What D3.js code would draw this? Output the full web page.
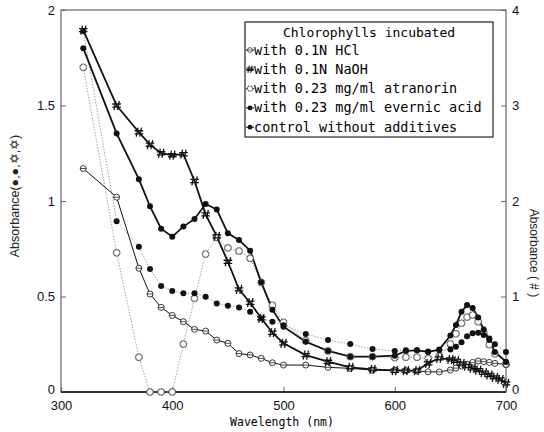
<!DOCTYPE html>
<html>
<head>
<meta charset="utf-8">
<script src="https://cdn.jsdelivr.net/npm/d3@7"></script>
<style>
body { margin: 0; background: #fff; }
</style>
</head>
<body>
<div id="chart-area"></div>
<script>
// wavelengths (nm) shared by most series
let wl = [320,350,370,380,390,400,410,420,430,440,450,460,470,480,490,500,520,540,560,580,
          600,610,620,630,640,650,655,660,665,670,675,680,685,690,700];
// NaOH has one extra reading at 695
let wlNaOH = [320,350,370,380,390,400,410,420,430,440,450,460,470,480,490,500,520,540,560,580,
              600,610,620,630,640,650,655,660,665,670,675,680,685,690,695,700];

let hcl = [1.17,1.02,0.648,0.513,0.443,0.401,0.368,0.328,0.319,0.272,0.255,0.201,0.194,0.176,0.153,0.141,0.141,0.129,0.124,0.115,
           0.115,0.112,0.11,0.106,0.105,0.115,0.125,0.136,0.145,0.155,0.162,0.159,0.155,0.15,0.145];
let naoh = [3.79,3.0,2.72,2.59,2.50,2.48,2.49,2.21,1.86,1.63,1.364,1.075,0.935,0.772,0.621,0.51,0.387,0.317,0.258,0.237,
            0.223,0.223,0.223,0.30,0.353,0.342,0.328,0.30,0.272,0.248,0.23,0.202,0.178,0.154,0.133,0.091];
let atranorin = [1.70,0.729,0.182,0,0,0,0.251,0.49,0.722,0.81,0.754,0.738,0.70,0.574,0.454,0.365,0.269,0.215,0.185,0.185,
                 0.18,0.182,0.182,0.176,0.188,0.252,0.305,0.36,0.392,0.403,0.368,0.31,0.248,0.2,0.145];
let evernic = [1.89,0.894,0.761,0.644,0.555,0.529,0.517,0.517,0.499,0.464,0.452,0.443,0.42,0.386,0.368,0.35,0.304,0.272,0.251,0.225,
               0.215,0.218,0.218,0.212,0.218,0.223,0.237,0.26,0.292,0.308,0.31,0.298,0.28,0.25,0.21];
let control = [1.80,1.354,1.114,0.972,0.855,0.813,0.866,0.906,0.984,0.956,0.831,0.796,0.74,0.574,0.431,0.342,0.263,0.215,0.185,0.185,
               0.19,0.215,0.218,0.21,0.222,0.296,0.351,0.42,0.455,0.44,0.39,0.327,0.272,0.21,0.159];

let leftTicks = [0,0.5,1,1.5,2];
let rightTicks = [0,1,2,3,4];
let xTicks = [300,400,500,600,700];
let legendTitle = "Chlorophylls incubated";
let legendLabels = ["with 0.1N HCl","with 0.1N NaOH","with 0.23 mg/ml atranorin","with 0.23 mg/ml evernic acid","control without additives"];

let width = 544, height = 432;
let pLeft = 61, pRight = 506, pTop = 10, pBottom = 392;

let svg = d3.select("#chart-area").append("svg")
    .attr("width", width)
    .attr("height", height);

let x = d3.scaleLinear().domain([300,700]).range([pLeft,pRight]);
let y = d3.scaleLinear().domain([0,2]).range([pBottom,pTop]);
let yR = d3.scaleLinear().domain([0,4]).range([pBottom,pTop]);

// frame
svg.append("rect")
    .attr("x", pLeft).attr("y", pTop)
    .attr("width", pRight-pLeft).attr("height", pBottom-pTop)
    .attr("fill", "none").attr("stroke", "#444").attr("stroke-width", 1);

let fmt = d3.format("");
let tickFont = "Liberation Sans, Arial, sans-serif";

let gx = svg.append("g").attr("transform", "translate(0," + pBottom + ")")
    .call(d3.axisBottom(x).tickValues(xTicks).tickFormat(fmt).tickSize(-5).tickPadding(9));
let gl = svg.append("g").attr("transform", "translate(" + pLeft + ",0)")
    .call(d3.axisLeft(y).tickValues(leftTicks).tickFormat(fmt).tickSize(-5).tickPadding(6));
let gr = svg.append("g").attr("transform", "translate(" + pRight + ",0)")
    .call(d3.axisRight(yR).tickValues(rightTicks).tickFormat(fmt).tickSize(-5).tickPadding(6));

[gx, gl, gr].forEach(g => {
    g.select(".domain").remove();
    g.selectAll("line").attr("stroke", "#666");
    g.selectAll("text").attr("font-family", tickFont).attr("font-size", 13).attr("fill", "#111");
});
// the two zero labels sit a little above the corner
gl.selectAll(".tick text").filter(d => d === 0).attr("dy", "0.1em");
gr.selectAll(".tick text").filter(d => d === 0).attr("dy", "0.1em");

// bottom axis line is heavier
svg.append("line").attr("x1", pLeft).attr("x2", pRight).attr("y1", pBottom).attr("y2", pBottom)
    .attr("stroke", "#111").attr("stroke-width", 1.4);

// axis titles
svg.append("text")
    .attr("x", 282).attr("y", 426)
    .attr("text-anchor", "middle")
    .attr("font-family", "DejaVu Sans Mono, monospace")
    .attr("font-size", 11.5)
    .text("Wavelength (nm)");

svg.append("text")
    .attr("transform", "translate(19,196) rotate(-90)")
    .attr("text-anchor", "middle")
    .attr("font-family", tickFont)
    .attr("font-size", 12.5)
    .attr("fill", "#222")
    .text("Absorbance(\u25CF,\u25CF,\u2721,\u2721)");

svg.append("text")
    .attr("transform", "translate(530,253) rotate(90)")
    .attr("text-anchor", "middle")
    .attr("font-family", tickFont)
    .attr("font-size", 12)
    .attr("fill", "#222")
    .text("Absorbance ( # )");

// marker shapes
let starPts = d3.range(24).map(i => {
    let a = i * Math.PI / 12, r = i % 2 ? 2.8 : 3.8;
    return [r*Math.sin(a), -r*Math.cos(a)];
});
let starPath = "M" + starPts.join("L") + "Z";

function marker(g, type) {
    if (type === "hcl") {
        g.append("circle").attr("r", 3).attr("fill", "#fff").attr("stroke", "#222").attr("stroke-width", 0.9);
        g.append("line").attr("x1", -3).attr("x2", 3).attr("stroke", "#222").attr("stroke-width", 0.8);
    } else if (type === "naoh") {
        g.append("path")
            .attr("d", "M-2.6,4.5L-0.8,-4.5M0.9,4.5L2.7,-4.5M-4.3,-1.5L4.3,-1.5M-4.3,1.6L4.3,1.6")
            .attr("stroke", "#111").attr("stroke-width", 1.3).attr("fill", "none");
    } else if (type === "atr") {
        g.append("path").attr("d", starPath).attr("fill", "#fff").attr("stroke", "#444").attr("stroke-width", 0.8);
    } else {
        g.append("circle").attr("r", 3).attr("fill", "#111");
    }
}

let series = [
    {xs: wl, vs: atranorin, sc: y, type: "atr", stroke: "#888", w: 0.8, dash: "1.5,1.5"},
    {xs: wl, vs: evernic, sc: y, type: "filled", stroke: "#888", w: 0.8, dash: "1.5,1.5"},
    {xs: wl, vs: hcl, sc: y, type: "hcl", stroke: "#111", w: 1, dash: null},
    {xs: wlNaOH, vs: naoh, sc: yR, type: "naoh", stroke: "#111", w: 1.8, dash: null},
    {xs: wl, vs: control, sc: y, type: "filled", stroke: "#111", w: 1.8, dash: null}
];

series.forEach(s => {
    let pts = s.xs.map((d,i) => [d, s.vs[i]]);
    let line = d3.line().x(d => x(d[0])).y(d => s.sc(d[1]));
    svg.append("path")
        .datum(pts)
        .attr("d", line)
        .attr("fill", "none")
        .attr("stroke", s.stroke)
        .attr("stroke-width", s.w)
        .attr("stroke-dasharray", s.dash);
});
series.forEach(s => {
    let pts = s.xs.map((d,i) => [d, s.vs[i]]);
    svg.append("g").selectAll("g")
        .data(pts)
        .enter().append("g")
        .attr("transform", d => "translate(" + x(d[0]) + "," + s.sc(d[1]) + ")")
        .each(function() { marker(d3.select(this), s.type); });
});

// legend
let lg = svg.append("g");
lg.append("rect")
    .attr("x", 245).attr("y", 22).attr("width", 248).attr("height", 115)
    .attr("fill", "#fff").attr("stroke", "#222").attr("stroke-width", 1.2);
lg.append("text")
    .attr("x", 369).attr("y", 37)
    .attr("text-anchor", "middle")
    .attr("font-family", "DejaVu Sans Mono, monospace")
    .attr("font-size", 13)
    .text(legendTitle);
let legTypes = ["hcl","naoh","atr","filled","filled"];
legendLabels.forEach((lab, i) => {
    let yy = 50 + i * 19.3;
    let row = lg.append("g").attr("transform", "translate(250," + yy + ")");
    row.append("line").attr("x1", -4).attr("x2", 4).attr("stroke", "#111").attr("stroke-width", 1);
    marker(row.append("g").attr("transform", "scale(0.8)"), legTypes[i]);
    row.append("text")
        .attr("x", 4).attr("y", 4.5)
        .attr("font-family", "DejaVu Sans Mono, monospace")
        .attr("font-size", 13.5)
        .text(lab);
});
</script>
</body>
</html>
